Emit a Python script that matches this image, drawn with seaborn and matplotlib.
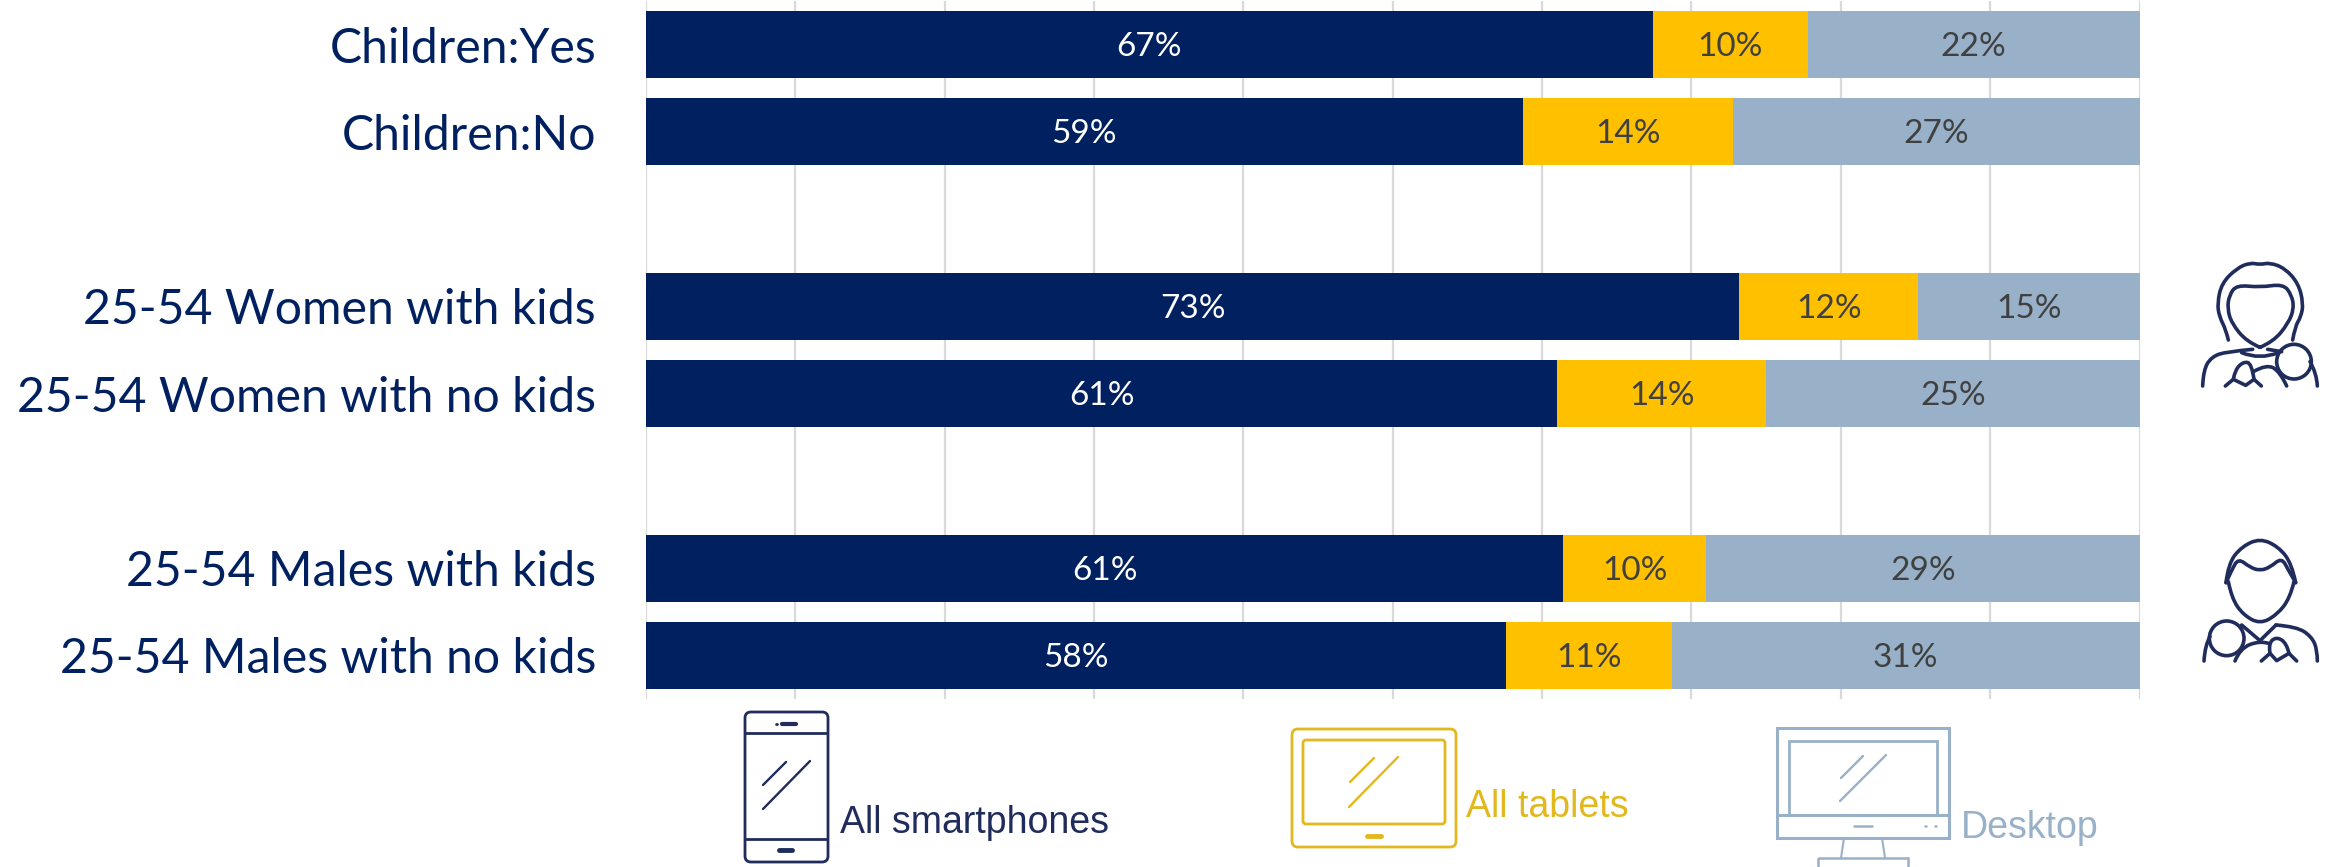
import numpy as np
import pandas as pd
import matplotlib
matplotlib.use("Agg")
import matplotlib.pyplot as plt
from matplotlib.path import Path
from matplotlib.patches import PathPatch, Rectangle, FancyBboxPatch, Circle
import seaborn as sns

# Data
groups = ["Children:Yes", "Children:No", "25-54 Women with kids", "25-54 Women with no kids",
          "25-54 Males with kids", "25-54 Males with no kids"]
smartphones = [67.4, 58.7, 73.2, 61.0, 61.4, 57.6]
tablets = [10.4, 14.1, 12.0, 14.0, 9.6, 11.1]
desktop = [22.2, 27.2, 14.8, 25.0, 29.0, 31.3]
# blank rows between the three blocks
row_order = [groups[0], groups[1], " ", groups[2], groups[3], "  ", groups[4], groups[5]]

NAVY = "#002060"
GOLD = "#FFC000"
BLUE = "#98B1C9"
ICON_NAVY = "#1F2C5C"
ICON_GOLD = "#E2B81E"
W, H = 2331, 867

df = pd.DataFrame({"group": groups, "phone": smartphones, "tablet": tablets, "desktop": desktop})
df["phone_tablet"] = df["phone"] + df["tablet"]
df["total"] = df["phone_tablet"] + df["desktop"]

sns.set_style("white")
plt.rcParams["font.family"] = ["Lato", "DejaVu Sans"]

fig = plt.figure(figsize=(W / 100, H / 100), dpi=100)
ax = fig.add_axes([646 / W, 1 - 699 / H, (2139.5 - 646) / W, 698 / H])

# stacked bars, drawn back to front
for col, colour in [("total", BLUE), ("phone_tablet", GOLD), ("phone", NAVY)]:
    sns.barplot(data=df, y="group", x=col, order=row_order, color=colour, saturation=1,
                width=0.77, linewidth=0, ax=ax)

for i, g in enumerate(groups):
    y = row_order.index(g) + 0.03
    a, b, c = smartphones[i], tablets[i], desktop[i]
    ax.text(a / 2, y, f"{round(a)}%", color="white", ha="center", va="center", fontsize=24)
    ax.text(a + b / 2, y, f"{round(b)}%", color="#404040", ha="center", va="center", fontsize=24)
    ax.text(a + b + c / 2, y, f"{round(c)}%", color="#404040", ha="center", va="center", fontsize=24)

ax.set_xlim(0, 100)
ax.set_xticks(np.arange(0, 101, 10))
ax.set_xticklabels([])
ax.set_xlabel("")
ax.set_ylabel("")
ax.set_axisbelow(True)
ax.grid(axis="x", color="#D9D9D9", linewidth=1.6)
ax.grid(axis="y", visible=False)
sns.despine(ax=ax, left=True, bottom=True, top=True, right=True)
ax.tick_params(axis="y", length=0, pad=36, labelsize=34.7, labelcolor=NAVY)
ax.tick_params(axis="x", length=0)

# overlay in pixel coordinates for the icons and legend
ov = fig.add_axes([0, 0, 1, 1], facecolor="none")
ov.set_xlim(0, W)
ov.set_ylim(H, 0)
ov.axis("off")


def line(pts, colour, lw=2.0):
    xs, ys = zip(*pts)
    ov.plot(xs, ys, color=colour, lw=lw, solid_capstyle="round", solid_joinstyle="round")


def curve(pts, colour, lw=2.6, ox=2100, oy=230):
    p = [(ox + x / 3, oy + y / 3) for x, y in pts]
    verts = [p[0]]
    codes = [Path.MOVETO]
    for k in range(1, len(p) - 1):
        mid = ((p[k][0] + p[k + 1][0]) / 2, (p[k][1] + p[k + 1][1]) / 2)
        if k == len(p) - 2:
            mid = p[-1]
        verts += [p[k], mid]
        codes += [Path.CURVE3, Path.CURVE3]
    if len(p) == 2:
        verts.append(p[1])
        codes.append(Path.LINETO)
    ov.add_patch(PathPatch(Path(verts, codes), fill=False, ec=colour, lw=lw, capstyle="round"))


def rbox(x0, y0, x1, y1, colour, lw=2.0, r=6):
    ov.add_patch(FancyBboxPatch((x0 + r, y0 + r), x1 - x0 - 2 * r, y1 - y0 - 2 * r,
                                boxstyle=f"round,pad={r},rounding_size={r}",
                                fill=False, ec=colour, lw=lw))


# phone
rbox(745, 712, 828, 862, ICON_NAVY)
line([(746, 733), (827, 733)], ICON_NAVY)
line([(746, 839), (827, 839)], ICON_NAVY)
line([(782, 724), (796, 724)], ICON_NAVY, 3)
line([(776, 724), (777, 724)], ICON_NAVY, 2)
line([(779, 850), (792, 850)], ICON_NAVY, 3.5)
line([(786, 762), (763, 785)], ICON_NAVY, 1.7)
line([(810, 761), (763, 809)], ICON_NAVY, 1.7)
# tablet
rbox(1292, 729, 1456, 847, ICON_GOLD)
rbox(1303, 740, 1445, 824, ICON_GOLD, r=3)
line([(1367, 836), (1381, 836)], ICON_GOLD, 3.5)
line([(1374, 758), (1350, 782)], ICON_GOLD, 1.7)
line([(1398, 757), (1349, 807)], ICON_GOLD, 1.7)
# desktop, the stand runs off the bottom edge
ov.add_patch(Rectangle((1777, 728), 172, 110, fill=False, ec=BLUE, lw=2.2))
ov.add_patch(Rectangle((1789, 741), 148, 74, fill=False, ec=BLUE, lw=2))
line([(1777, 815), (1949, 815)], BLUE, 2.2)
line([(1854, 826), (1872, 826)], BLUE, 1.8)
line([(1925, 826), (1926, 826)], BLUE, 1.8)
line([(1935, 826), (1936, 826)], BLUE, 1.8)
line([(1863, 756), (1841, 778)], BLUE, 1.7)
line([(1886, 755), (1840, 801)], BLUE, 1.7)
line([(1844, 838), (1841, 858)], BLUE, 1.5)
line([(1882, 838), (1885, 858)], BLUE, 1.5)
ov.add_patch(Rectangle((1818, 858), 90, 12, fill=False, ec=BLUE, lw=1.8, clip_on=True))

for label, x, y, colour in [("All smartphones", 840, 833, ICON_NAVY),
                            ("All tablets", 1466, 817, ICON_GOLD),
                            ("Desktop", 1961, 838, BLUE)]:
    ov.text(x, y, label, color=colour, family="Liberation Sans", fontsize=27, va="baseline")

# woman
curve([(385, 330), (378, 300), (358, 260), (352, 220), (365, 160), (410, 115), (450, 98), (480, 104),
       (510, 98), (555, 115), (595, 160), (610, 220), (603, 260), (585, 290), (578, 330)], ICON_NAVY)
curve([(480, 352), (440, 335), (395, 280), (382, 235), (388, 195), (410, 165), (480, 172), (550, 162),
       (575, 195), (582, 235), (565, 280), (520, 335), (480, 352)], ICON_NAVY)
curve([(308, 468), (310, 420), (335, 380), (380, 365), (458, 358)], ICON_NAVY)
line([(2100 + 503 / 3, 230 + 358 / 3), (2100 + 545 / 3, 230 + 365 / 3)], ICON_NAVY, 2.6)
curve([(425, 368), (480, 390), (535, 368)], ICON_NAVY)
ov.add_patch(Circle((2100 + 582 / 3, 230 + 395 / 3), 52 / 3, fill=False, ec=ICON_NAVY, lw=2.6))
curve([(630, 395), (650, 430), (652, 468)], ICON_NAVY)
curve([(460, 425), (500, 402), (540, 425), (560, 468)], ICON_NAVY)
curve([(400, 448), (405, 420), (430, 395), (455, 400), (462, 448)], ICON_NAVY)
line([(2100 + 376 / 3, 230 + 468 / 3), (2100 + 400 / 3, 230 + 448 / 3), (2100 + 437 / 3, 230 + 466 / 3),
      (2100 + 462 / 3, 230 + 448 / 3), (2100 + 484 / 3, 230 + 468 / 3)], ICON_NAVY, 2.6)
# man
curve([(378, 1058), (385, 1000), (425, 950), (480, 925), (535, 950), (575, 1000), (587, 1058)], ICON_NAVY)
curve([(378, 1058), (395, 1020), (415, 985), (450, 1012), (480, 1022), (510, 1012), (545, 983), (565, 1020),
       (587, 1058)], ICON_NAVY)
curve([(385, 1055), (395, 1105), (430, 1155), (480, 1182), (530, 1155), (570, 1105), (582, 1055)], ICON_NAVY)
ov.add_patch(Circle((2100 + 380 / 3, 230 + 1225 / 3), 52 / 3, fill=False, ec=ICON_NAVY, lw=2.6))
curve([(312, 1293), (315, 1245), (330, 1220)], ICON_NAVY)
line([(2100 + 425 / 3, 230 + 1185 / 3), (2100 + 480 / 3, 230 + 1232 / 3), (2100 + 528 / 3, 230 + 1185 / 3)],
     ICON_NAVY, 2.6)
curve([(528, 1185), (590, 1190), (635, 1220), (652, 1260), (652, 1293)], ICON_NAVY)
curve([(405, 1293), (420, 1255), (480, 1232), (505, 1240)], ICON_NAVY)
curve([(510, 1270), (505, 1240), (530, 1220), (560, 1240), (567, 1270)], ICON_NAVY)
line([(2100 + 484 / 3, 230 + 1293 / 3), (2100 + 510 / 3, 230 + 1270 / 3), (2100 + 530 / 3, 230 + 1292 / 3),
      (2100 + 567 / 3, 230 + 1270 / 3), (2100 + 590 / 3, 230 + 1293 / 3)], ICON_NAVY, 2.6)

fig.savefig("out.png", dpi=100)
